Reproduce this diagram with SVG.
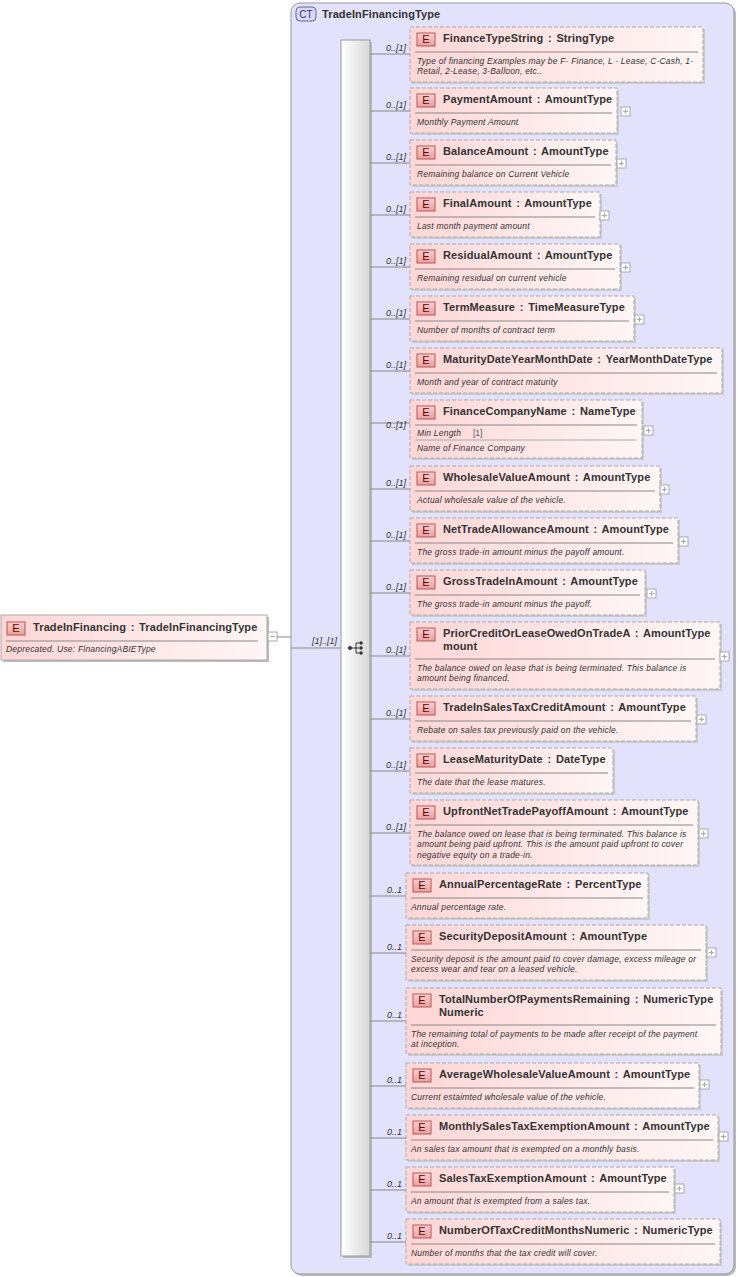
<svg xmlns="http://www.w3.org/2000/svg" width="737" height="1277" viewBox="0 0 737 1277">
<defs>
<linearGradient id="eg" x1="0" y1="0" x2="1" y2="0"><stop offset="0" stop-color="#ffd6d6"/><stop offset="1" stop-color="#fff6f6"/></linearGradient>
<linearGradient id="bg" x1="0" y1="0" x2="0" y2="1"><stop offset="0" stop-color="#f8d0d0"/><stop offset="1" stop-color="#e8a0a0"/></linearGradient>
<linearGradient id="sg" x1="0" y1="0" x2="1" y2="0"><stop offset="0" stop-color="#ffffff"/><stop offset="1" stop-color="#d8d8d8"/></linearGradient>
<style>
.box{fill:url(#eg);stroke:#aaa;stroke-dasharray:4,2}
.sol{fill:url(#eg);stroke:#aaa}
.sh{fill:#ccc}
.badge{fill:url(#bg);stroke:#b55}
.bt{font:11px "Liberation Sans",sans-serif;fill:#600}
.t{font:bold 11px "Liberation Sans",sans-serif;fill:#333;letter-spacing:0.12px;word-spacing:1.5px}
.d{font:italic 8.5px "Liberation Sans",sans-serif;fill:#333;letter-spacing:0.2px}
.c{font:italic 9px "Liberation Sans",sans-serif;fill:#333;text-anchor:end}
.ln{stroke:#888;stroke-width:1}
.pl{fill:#fff;stroke:#aaa}
.pm{stroke:#aaa}
</style>
</defs>
<g id="container">
<rect x="293" y="5" width="443" height="1271" rx="9" fill="#bbb"/>
<rect x="291" y="3" width="443" height="1271" rx="9" fill="#e2e2fc" stroke="#999"/>
<rect x="296" y="7" width="20" height="14" rx="4" fill="#d8d8f8" stroke="#668"/>
<text x="306" y="18" font-family="Liberation Sans,sans-serif" font-size="10" fill="#336" text-anchor="middle">CT</text>
<text x="322" y="18" class="t">TradeInFinancingType</text>
</g>
<g id="sequence">
<rect x="343" y="42" width="29" height="1216" fill="#bbb"/>
<rect x="341" y="40" width="29" height="1216" fill="url(#sg)" stroke="#999"/>
<circle cx="350" cy="648" r="2" fill="#333"/>
<path d="M352 648h4M356 643v10M356 643h3M356 648h3M356 653h3" stroke="#333" fill="none"/>
<circle cx="361" cy="643" r="1.8" fill="#333"/><circle cx="361" cy="648" r="1.8" fill="#333"/><circle cx="361" cy="653" r="1.8" fill="#333"/>
</g>
<g id="root">
<rect x="3" y="617" width="266" height="45" fill="#bbb"/>
<rect x="1" y="615" width="266" height="45" class="sol"/>
<rect x="7" y="622" width="18" height="13" class="badge"/><text x="16" y="632" class="bt" text-anchor="middle">E</text>
<text x="33" y="631" class="t">TradeInFinancing : TradeInFinancingType</text>
<line x1="6" y1="641" x2="258" y2="641" stroke="#888"/>
<text x="6" y="652" class="d">Deprecated. Use: FinancingABIEType</text>
<rect x="268" y="632" width="9" height="9" class="pl"/><path d="M270 636.5h5" class="pm"/>
</g>
<g id="connectors">
<path d="M277 637h14M291 648h50" class="ln"/>
<text x="337" y="644" class="c">[1]..[1]</text>
</g>
<g id="n1"><rect x="412" y="29" width="293" height="55" class="sh"/><rect x="410" y="27" width="293" height="55" class="box"/><rect x="417" y="33" width="18" height="13" class="badge"/><text x="426" y="43" class="bt" text-anchor="middle">E</text><text x="443" y="42" class="t">FinanceTypeString : StringType</text><line x1="415" y1="52" x2="698" y2="52" stroke="#888"/><text x="417" y="64" class="d">Type of financing Examples may be F- Finance, L - Lease, C-Cash, 1-</text><text x="417" y="74" class="d">Retail, 2-Lease, 3-Balloon, etc..</text><path d="M370 54h40" class="ln"/><text x="406" y="51" class="c">0..[1]</text></g>
<g id="n2"><rect x="412" y="90" width="207" height="45" class="sh"/><rect x="410" y="88" width="207" height="45" class="box"/><rect x="417" y="94" width="18" height="13" class="badge"/><text x="426" y="104" class="bt" text-anchor="middle">E</text><text x="443" y="103" class="t">PaymentAmount : AmountType</text><line x1="415" y1="113" x2="612" y2="113" stroke="#888"/><text x="417" y="125" class="d">Monthly Payment Amount</text><rect x="621" y="107" width="9" height="9" class="pl"/><path d="M623 111.5h5M625.5 109v5" class="pm"/><path d="M370 111h40" class="ln"/><text x="406" y="108" class="c">0..[1]</text></g>
<g id="n3"><rect x="412" y="142" width="206" height="45" class="sh"/><rect x="410" y="140" width="206" height="45" class="box"/><rect x="417" y="146" width="18" height="13" class="badge"/><text x="426" y="156" class="bt" text-anchor="middle">E</text><text x="443" y="155" class="t">BalanceAmount : AmountType</text><line x1="415" y1="165" x2="611" y2="165" stroke="#888"/><text x="417" y="177" class="d">Remaining balance on Current Vehicle</text><rect x="617" y="159" width="9" height="9" class="pl"/><path d="M619 163.5h5M621.5 161v5" class="pm"/><path d="M370 163h40" class="ln"/><text x="406" y="160" class="c">0..[1]</text></g>
<g id="n4"><rect x="412" y="194" width="190" height="45" class="sh"/><rect x="410" y="192" width="190" height="45" class="box"/><rect x="417" y="198" width="18" height="13" class="badge"/><text x="426" y="208" class="bt" text-anchor="middle">E</text><text x="443" y="207" class="t">FinalAmount : AmountType</text><line x1="415" y1="217" x2="595" y2="217" stroke="#888"/><text x="417" y="229" class="d">Last month payment amount</text><rect x="600" y="211" width="9" height="9" class="pl"/><path d="M602 215.5h5M604.5 213v5" class="pm"/><path d="M370 215h40" class="ln"/><text x="406" y="212" class="c">0..[1]</text></g>
<g id="n5"><rect x="412" y="246" width="210" height="45" class="sh"/><rect x="410" y="244" width="210" height="45" class="box"/><rect x="417" y="250" width="18" height="13" class="badge"/><text x="426" y="260" class="bt" text-anchor="middle">E</text><text x="443" y="259" class="t">ResidualAmount : AmountType</text><line x1="415" y1="269" x2="615" y2="269" stroke="#888"/><text x="417" y="281" class="d">Remaining residual on current vehicle</text><rect x="621" y="263" width="9" height="9" class="pl"/><path d="M623 267.5h5M625.5 265v5" class="pm"/><path d="M370 267h40" class="ln"/><text x="406" y="264" class="c">0..[1]</text></g>
<g id="n6"><rect x="412" y="298" width="224" height="45" class="sh"/><rect x="410" y="296" width="224" height="45" class="box"/><rect x="417" y="302" width="18" height="13" class="badge"/><text x="426" y="312" class="bt" text-anchor="middle">E</text><text x="443" y="311" class="t">TermMeasure : TimeMeasureType</text><line x1="415" y1="321" x2="629" y2="321" stroke="#888"/><text x="417" y="333" class="d">Number of months of contract term</text><rect x="635" y="315" width="9" height="9" class="pl"/><path d="M637 319.5h5M639.5 317v5" class="pm"/><path d="M370 319h40" class="ln"/><text x="406" y="316" class="c">0..[1]</text></g>
<g id="n7"><rect x="412" y="350" width="312" height="45" class="sh"/><rect x="410" y="348" width="312" height="45" class="box"/><rect x="417" y="354" width="18" height="13" class="badge"/><text x="426" y="364" class="bt" text-anchor="middle">E</text><text x="443" y="363" class="t">MaturityDateYearMonthDate : YearMonthDateType</text><line x1="415" y1="373" x2="717" y2="373" stroke="#888"/><text x="417" y="385" class="d">Month and year of contract maturity</text><path d="M370 371h40" class="ln"/><text x="406" y="368" class="c">0..[1]</text></g>
<g id="n8"><rect x="412" y="402" width="232" height="58" class="sh"/><rect x="410" y="400" width="232" height="58" class="box"/><rect x="417" y="406" width="18" height="13" class="badge"/><text x="426" y="416" class="bt" text-anchor="middle">E</text><text x="443" y="415" class="t">FinanceCompanyName : NameType</text><line x1="415" y1="425" x2="637" y2="425" stroke="#888"/><text x="417" y="436" class="d">Min Length</text><text x="473" y="436" font-family="Liberation Sans,sans-serif" font-size="8.5" fill="#555">[1]</text><line x1="415" y1="440" x2="637" y2="440" stroke="#aaa"/><text x="417" y="451" class="d">Name of Finance Company</text><rect x="644" y="426" width="9" height="9" class="pl"/><path d="M646 430.5h5M648.5 428v5" class="pm"/><path d="M370 423h40" class="ln"/><text x="406" y="428" class="c">0..[1]</text></g>
<g id="n9"><rect x="412" y="468" width="250" height="45" class="sh"/><rect x="410" y="466" width="250" height="45" class="box"/><rect x="417" y="472" width="18" height="13" class="badge"/><text x="426" y="482" class="bt" text-anchor="middle">E</text><text x="443" y="481" class="t">WholesaleValueAmount : AmountType</text><line x1="415" y1="491" x2="655" y2="491" stroke="#888"/><text x="417" y="503" class="d">Actual wholesale value of the vehicle.</text><rect x="660" y="485" width="9" height="9" class="pl"/><path d="M662 489.5h5M664.5 487v5" class="pm"/><path d="M370 489h40" class="ln"/><text x="406" y="486" class="c">0..[1]</text></g>
<g id="n10"><rect x="412" y="520" width="268" height="45" class="sh"/><rect x="410" y="518" width="268" height="45" class="box"/><rect x="417" y="524" width="18" height="13" class="badge"/><text x="426" y="534" class="bt" text-anchor="middle">E</text><text x="443" y="533" class="t">NetTradeAllowanceAmount : AmountType</text><line x1="415" y1="543" x2="673" y2="543" stroke="#888"/><text x="417" y="555" class="d">The gross trade-in amount minus the payoff amount.</text><rect x="679" y="537" width="9" height="9" class="pl"/><path d="M681 541.5h5M683.5 539v5" class="pm"/><path d="M370 541h40" class="ln"/><text x="406" y="538" class="c">0..[1]</text></g>
<g id="n11"><rect x="412" y="572" width="235" height="45" class="sh"/><rect x="410" y="570" width="235" height="45" class="box"/><rect x="417" y="576" width="18" height="13" class="badge"/><text x="426" y="586" class="bt" text-anchor="middle">E</text><text x="443" y="585" class="t">GrossTradeInAmount : AmountType</text><line x1="415" y1="595" x2="640" y2="595" stroke="#888"/><text x="417" y="607" class="d">The gross trade-in amount minus the payoff.</text><rect x="647" y="589" width="9" height="9" class="pl"/><path d="M649 593.5h5M651.5 591v5" class="pm"/><path d="M370 593h40" class="ln"/><text x="406" y="590" class="c">0..[1]</text></g>
<g id="n12"><rect x="412" y="624" width="310" height="67" class="sh"/><rect x="410" y="622" width="310" height="67" class="box"/><rect x="417" y="628" width="18" height="13" class="badge"/><text x="426" y="638" class="bt" text-anchor="middle">E</text><text x="443" y="637" class="t">PriorCreditOrLeaseOwedOnTradeA : AmountType</text><text x="443" y="650" class="t">mount</text><line x1="415" y1="659" x2="715" y2="659" stroke="#888"/><text x="417" y="671" class="d">The balance owed on lease that is being terminated. This balance is</text><text x="417" y="681" class="d">amount being financed.</text><rect x="720" y="652" width="9" height="9" class="pl"/><path d="M722 656.5h5M724.5 654v5" class="pm"/><path d="M370 656h40" class="ln"/><text x="406" y="653" class="c">0..[1]</text></g>
<g id="n13"><rect x="412" y="698" width="286" height="45" class="sh"/><rect x="410" y="696" width="286" height="45" class="box"/><rect x="417" y="702" width="18" height="13" class="badge"/><text x="426" y="712" class="bt" text-anchor="middle">E</text><text x="443" y="711" class="t">TradeInSalesTaxCreditAmount : AmountType</text><line x1="415" y1="721" x2="691" y2="721" stroke="#888"/><text x="417" y="733" class="d">Rebate on sales tax previously paid on the vehicle.</text><rect x="697" y="715" width="9" height="9" class="pl"/><path d="M699 719.5h5M701.5 717v5" class="pm"/><path d="M370 719h40" class="ln"/><text x="406" y="716" class="c">0..[1]</text></g>
<g id="n14"><rect x="412" y="750" width="203" height="45" class="sh"/><rect x="410" y="748" width="203" height="45" class="box"/><rect x="417" y="754" width="18" height="13" class="badge"/><text x="426" y="764" class="bt" text-anchor="middle">E</text><text x="443" y="763" class="t">LeaseMaturityDate : DateType</text><line x1="415" y1="773" x2="608" y2="773" stroke="#888"/><text x="417" y="785" class="d">The date that the lease matures.</text><path d="M370 771h40" class="ln"/><text x="406" y="768" class="c">0..[1]</text></g>
<g id="n15"><rect x="412" y="802" width="288" height="65" class="sh"/><rect x="410" y="800" width="288" height="65" class="box"/><rect x="417" y="806" width="18" height="13" class="badge"/><text x="426" y="816" class="bt" text-anchor="middle">E</text><text x="443" y="815" class="t">UpfrontNetTradePayoffAmount : AmountType</text><line x1="415" y1="825" x2="693" y2="825" stroke="#888"/><text x="417" y="837" class="d">The balance owed on lease that is being terminated. This balance is</text><text x="417" y="847" class="d">amount being paid upfront. This is the amount paid upfront to cover</text><text x="417" y="858" class="d">negative equity on a trade-in.</text><rect x="699" y="829" width="9" height="9" class="pl"/><path d="M701 833.5h5M703.5 831v5" class="pm"/><path d="M370 833h40" class="ln"/><text x="406" y="830" class="c">0..[1]</text></g>
<g id="n16"><rect x="408" y="875" width="242" height="45" class="sh"/><rect x="406" y="873" width="242" height="45" class="box"/><rect x="413" y="879" width="18" height="13" class="badge"/><text x="422" y="889" class="bt" text-anchor="middle">E</text><text x="439" y="888" class="t">AnnualPercentageRate : PercentType</text><line x1="411" y1="898" x2="643" y2="898" stroke="#888"/><text x="411" y="910" class="d">Annual percentage rate.</text><path d="M370 896h36" class="ln"/><text x="402" y="893" class="c">0..1</text></g>
<g id="n17"><rect x="408" y="927" width="300" height="55" class="sh"/><rect x="406" y="925" width="300" height="55" class="box"/><rect x="413" y="931" width="18" height="13" class="badge"/><text x="422" y="941" class="bt" text-anchor="middle">E</text><text x="439" y="940" class="t">SecurityDepositAmount : AmountType</text><line x1="411" y1="950" x2="701" y2="950" stroke="#888"/><text x="411" y="962" class="d">Security deposit is the amount paid to cover damage, excess mileage or</text><text x="411" y="972" class="d">excess wear and tear on a leased vehicle.</text><rect x="707" y="948" width="9" height="9" class="pl"/><path d="M709 952.5h5M711.5 950v5" class="pm"/><path d="M370 953h36" class="ln"/><text x="402" y="950" class="c">0..1</text></g>
<g id="n18"><rect x="408" y="990" width="315" height="66" class="sh"/><rect x="406" y="988" width="315" height="66" class="box"/><rect x="413" y="994" width="18" height="13" class="badge"/><text x="422" y="1004" class="bt" text-anchor="middle">E</text><text x="439" y="1003" class="t">TotalNumberOfPaymentsRemaining : NumericType</text><text x="439" y="1016" class="t">Numeric</text><line x1="411" y1="1025" x2="716" y2="1025" stroke="#888"/><text x="411" y="1037" class="d">The remaining total of payments to be made after receipt of the payment</text><text x="411" y="1047" class="d">at inception.</text><path d="M370 1021h36" class="ln"/><text x="402" y="1018" class="c">0..1</text></g>
<g id="n19"><rect x="408" y="1065" width="293" height="45" class="sh"/><rect x="406" y="1063" width="293" height="45" class="box"/><rect x="413" y="1069" width="18" height="13" class="badge"/><text x="422" y="1079" class="bt" text-anchor="middle">E</text><text x="439" y="1078" class="t">AverageWholesaleValueAmount : AmountType</text><line x1="411" y1="1088" x2="694" y2="1088" stroke="#888"/><text x="411" y="1100" class="d">Current estaimted wholesale value of the vehicle.</text><rect x="700" y="1080" width="9" height="9" class="pl"/><path d="M702 1084.5h5M704.5 1082v5" class="pm"/><path d="M370 1086h36" class="ln"/><text x="402" y="1083" class="c">0..1</text></g>
<g id="n20"><rect x="408" y="1117" width="312" height="45" class="sh"/><rect x="406" y="1115" width="312" height="45" class="box"/><rect x="413" y="1121" width="18" height="13" class="badge"/><text x="422" y="1131" class="bt" text-anchor="middle">E</text><text x="439" y="1130" class="t">MonthlySalesTaxExemptionAmount : AmountType</text><line x1="411" y1="1140" x2="713" y2="1140" stroke="#888"/><text x="411" y="1152" class="d">An sales tax amount that is exempted on a monthly basis.</text><rect x="719" y="1132" width="9" height="9" class="pl"/><path d="M721 1136.5h5M723.5 1134v5" class="pm"/><path d="M370 1138h36" class="ln"/><text x="402" y="1135" class="c">0..1</text></g>
<g id="n21"><rect x="408" y="1169" width="268" height="45" class="sh"/><rect x="406" y="1167" width="268" height="45" class="box"/><rect x="413" y="1173" width="18" height="13" class="badge"/><text x="422" y="1183" class="bt" text-anchor="middle">E</text><text x="439" y="1182" class="t">SalesTaxExemptionAmount : AmountType</text><line x1="411" y1="1192" x2="669" y2="1192" stroke="#888"/><text x="411" y="1204" class="d">An amount that is exempted from a sales tax.</text><rect x="675" y="1184" width="9" height="9" class="pl"/><path d="M677 1188.5h5M679.5 1186v5" class="pm"/><path d="M370 1190h36" class="ln"/><text x="402" y="1187" class="c">0..1</text></g>
<g id="n22"><rect x="408" y="1221" width="314" height="45" class="sh"/><rect x="406" y="1219" width="314" height="45" class="box"/><rect x="413" y="1225" width="18" height="13" class="badge"/><text x="422" y="1235" class="bt" text-anchor="middle">E</text><text x="439" y="1234" class="t">NumberOfTaxCreditMonthsNumeric : NumericType</text><line x1="411" y1="1244" x2="715" y2="1244" stroke="#888"/><text x="411" y="1256" class="d">Number of months that the tax credit will cover.</text><path d="M370 1242h36" class="ln"/><text x="402" y="1239" class="c">0..1</text></g>
</svg>
